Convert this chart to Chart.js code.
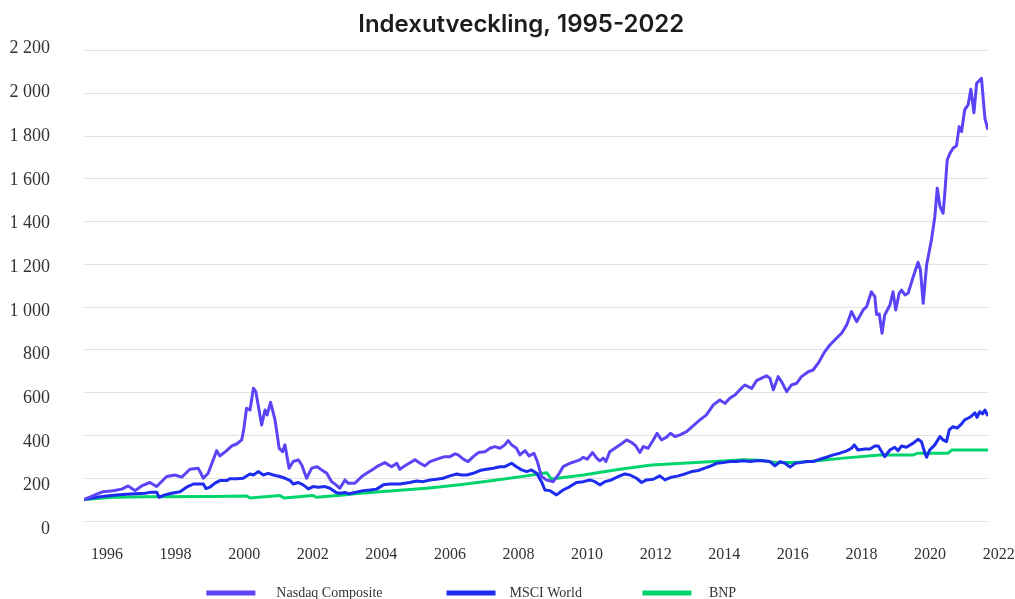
<!DOCTYPE html>
<html><head><meta charset="utf-8">
<script src="https://cdn.jsdelivr.net/npm/chart.js@4"></script>
<style>html,body{margin:0;padding:0;background:#fff;}</style>
</head><body>
<canvas id="c" width="1015" height="599"></canvas>
<script>
const chartTitle = 'Indexutveckling, 1995-2022';
const seriesNames = ['Nasdaq Composite', 'MSCI World', 'BNP'];
const seriesColors = ['#5a44f6', '#1e2cf0', '#00d56c'];
const xTickYears = [1996, 1998, 2000, 2002, 2004, 2006, 2008, 2010, 2012, 2014, 2016, 2018, 2020, 2022];
const yTickValues = [0, 200, 400, 600, 800, 1000, 1200, 1400, 1600, 1800, 2000, 2200];

const nasdaqYears = [1995.33,1995.65,1995.89,1996.18,1996.43,1996.62,1996.82,1997.01,1997.25,1997.45,1997.74,1997.98,1998.18,1998.42,1998.66,1998.81,1998.95,1999.20,1999.29,1999.49,1999.64,1999.78,1999.93,1999.99,2000.07,2000.17,2000.27,2000.34,2000.51,2000.61,2000.67,2000.77,2000.90,2001.02,2001.12,2001.19,2001.31,2001.43,2001.58,2001.68,2001.82,2001.97,2002.13,2002.26,2002.41,2002.55,2002.68,2002.79,2002.94,2003.03,2003.23,2003.43,2003.57,2003.76,2003.91,2004.10,2004.30,2004.45,2004.54,2004.69,2004.98,2005.13,2005.27,2005.42,2005.56,2005.71,2005.85,2006.00,2006.15,2006.24,2006.39,2006.53,2006.68,2006.83,2007.02,2007.17,2007.31,2007.46,2007.60,2007.70,2007.80,2007.94,2008.04,2008.19,2008.31,2008.45,2008.55,2008.67,2008.82,2009.01,2009.19,2009.30,2009.50,2009.64,2009.79,2009.89,2010.00,2010.16,2010.28,2010.37,2010.47,2010.55,2010.66,2010.81,2010.96,2011.15,2011.30,2011.42,2011.54,2011.64,2011.78,2011.93,2012.04,2012.17,2012.32,2012.43,2012.56,2012.71,2012.90,2013.09,2013.29,2013.48,2013.68,2013.87,2014.02,2014.16,2014.31,2014.45,2014.60,2014.80,2014.94,2015.09,2015.23,2015.33,2015.43,2015.57,2015.67,2015.82,2015.96,2016.11,2016.25,2016.45,2016.59,2016.74,2016.93,2017.08,2017.22,2017.42,2017.57,2017.71,2017.86,2018.05,2018.15,2018.29,2018.39,2018.44,2018.52,2018.60,2018.68,2018.83,2018.92,2019.00,2019.10,2019.17,2019.27,2019.36,2019.51,2019.65,2019.72,2019.80,2019.90,2020.04,2020.14,2020.21,2020.29,2020.38,2020.43,2020.50,2020.58,2020.67,2020.77,2020.85,2020.92,2021.01,2021.11,2021.19,2021.28,2021.36,2021.50,2021.60,2021.69];
const nasdaqValues = [100,122,137,141,149,164,142,164,180,161,208,215,205,242,247,200,223,329,304,329,351,360,379,430,527,519,621,605,449,519,496,555,473,340,324,356,247,278,286,262,200,247,254,239,223,184,169,153,192,177,177,208,223,242,258,273,254,270,242,258,286,270,258,278,286,294,301,301,314,309,289,278,301,320,324,340,348,340,356,376,356,340,309,329,304,317,278,208,192,184,223,254,270,278,286,298,289,320,294,281,294,278,324,340,356,379,367,351,320,348,340,379,410,379,392,410,395,403,418,445,473,496,543,566,550,574,589,613,636,620,656,668,679,668,613,675,652,605,636,644,675,698,706,738,792,823,846,878,917,979,932,987,1002,1072,1049,966,968,878,964,1010,1072,987,1065,1080,1057,1065,1142,1210,1174,1018,1197,1314,1423,1556,1470,1439,1532,1688,1719,1743,1754,1844,1821,1922,1946,2019,1909,2047,2070,1883,1829];

const msciYears = [1995.33,1995.70,1995.99,1996.28,1996.57,1996.82,1997.11,1997.30,1997.45,1997.52,1997.69,1997.89,1998.13,1998.32,1998.52,1998.81,1998.89,1999.00,1999.15,1999.29,1999.49,1999.59,1999.78,1999.97,2000.17,2000.27,2000.41,2000.56,2000.70,2000.85,2001.04,2001.19,2001.34,2001.43,2001.58,2001.72,2001.87,2002.01,2002.16,2002.36,2002.50,2002.68,2002.79,2002.94,2003.06,2003.23,2003.47,2003.67,2003.86,2004.06,2004.25,2004.45,2004.54,2004.83,2005.03,2005.22,2005.42,2005.61,2005.80,2006.00,2006.20,2006.34,2006.49,2006.68,2006.87,2007.07,2007.26,2007.46,2007.60,2007.80,2007.94,2008.09,2008.24,2008.38,2008.53,2008.67,2008.77,2008.92,2009.11,2009.30,2009.50,2009.69,2009.89,2010.08,2010.23,2010.37,2010.52,2010.71,2010.91,2011.10,2011.25,2011.44,2011.59,2011.73,2011.93,2012.12,2012.27,2012.46,2012.66,2012.85,2013.05,2013.24,2013.43,2013.58,2013.78,2013.97,2014.16,2014.36,2014.55,2014.75,2014.94,2015.13,2015.33,2015.48,2015.63,2015.77,2015.92,2016.07,2016.22,2016.40,2016.59,2016.79,2016.98,2017.18,2017.37,2017.57,2017.71,2017.79,2017.90,2018.10,2018.25,2018.39,2018.49,2018.59,2018.68,2018.83,2018.97,2019.07,2019.17,2019.31,2019.51,2019.65,2019.75,2019.85,2019.90,2019.99,2020.14,2020.29,2020.38,2020.48,2020.56,2020.67,2020.79,2020.92,2021.01,2021.16,2021.31,2021.37,2021.45,2021.53,2021.60,2021.69];
const msciValues = [100,111,117,122,125,127,130,135,135,111,122,130,137,158,173,173,151,158,177,189,189,198,198,200,220,215,231,215,223,215,208,200,189,173,180,169,150,161,158,161,153,133,130,133,127,133,142,145,149,169,173,173,173,180,187,184,192,195,200,211,220,215,215,223,236,242,247,254,254,270,254,239,231,239,223,184,145,142,122,145,161,180,184,192,184,169,184,192,208,220,215,200,180,192,195,211,192,205,211,220,231,236,247,256,270,273,278,278,282,278,282,282,278,258,278,270,252,270,273,278,278,289,298,309,317,328,340,356,332,337,337,351,351,324,301,332,345,329,351,345,364,382,371,317,298,332,356,395,379,371,426,441,434,454,473,485,506,485,511,501,519,491];

const bnpYears = [1995.33,1996.17,1997.16,1999.09,2000.07,2000.17,2001.04,2001.16,2002.01,2002.11,2002.89,2003.38,2004.35,2005.32,2006.29,2007.26,2008.24,2008.82,2008.96,2009.89,2010.86,2011.88,2012.80,2014.55,2015.04,2015.52,2016.01,2016.50,2017.47,2018.54,2019.51,2019.65,2020.53,2020.63,2021.69];
const bnpValues = [100,111,113,114,117,108,119,108,119,111,122,130,141,153,169,189,211,226,196,215,240,262,270,286,284,273,273,278,294,309,309,317,317,332,332];

function toPoints(xs, ys) { return xs.map((x, i) => ({ x: x, y: ys[i] })); }
function fmtThousands(v) {
  if (v >= 1000) return Math.floor(v / 1000) + ' ' + String(v % 1000).padStart(3, '0');
  return String(v);
}

const xTickFont = { family: 'Liberation Serif', size: 16 };
const yTickFont = { family: 'Liberation Serif', size: 18 };
const allSeries = [[nasdaqYears, nasdaqValues], [msciYears, msciValues], [bnpYears, bnpValues]];
const legendLeading = [4, 2, 3];
const legendTrailing = [12, 11, 13];

new Chart(document.getElementById('c'), {
  type: 'line',
  data: {
    datasets: allSeries.map((s, i) => ({
      label: seriesNames[i],
      data: toPoints(s[0], s[1]),
      borderColor: seriesColors[i],
      backgroundColor: seriesColors[i],
      borderWidth: 3,
      pointRadius: 0,
      tension: 0,
      fill: false,
      borderJoinStyle: 'round',
      yAxisID: 'y'
    }))
  },
  options: {
    responsive: false,
    animation: false,
    layout: { padding: { left: 0, right: 27, top: 0, bottom: -11 } },
    plugins: {
      title: {
        display: true,
        text: '         ' + chartTitle,
        color: '#1c1c1c',
        font: { family: 'Inter', size: 24, weight: '600' },
        padding: { top: 10, bottom: 11.7 }
      },
      legend: {
        position: 'bottom',
        labels: {
          boxWidth: 49,
          boxHeight: 5,
          padding: 22,
          color: '#333',
          font: { family: 'Liberation Serif', size: 14 },
          generateLabels: (chart) => {
            const items = Chart.defaults.plugins.legend.labels.generateLabels(chart);
            return items.map((it, i) => {
              it.text = ' '.repeat(legendLeading[i]) + it.text + ' '.repeat(legendTrailing[i]);
              it.lineWidth = 0;
              it.fillStyle = seriesColors[i];
              it.strokeStyle = seriesColors[i];
              return it;
            });
          }
        }
      },
      tooltip: { enabled: false }
    },
    scales: {
      x: {
        type: 'linear',
        min: 1995.33,
        max: 2021.69,
        grid: { display: false, drawTicks: false },
        border: { display: false },
        ticks: { padding: 24, autoSkip: false, maxRotation: 0, color: '#333', font: xTickFont, callback: (v) => String(v) },
        afterBuildTicks: (scale) => { scale.ticks = xTickYears.map(v => ({ value: v })); },
        afterFit: (scale) => { scale.paddingRight = 0; scale.paddingLeft = 0; scale.height = 43; }
      },
      y: {
        position: 'left',
        min: 0,
        max: 2200,
        grid: { color: '#e2e2e2', lineWidth: 1, drawTicks: false },
        border: { display: false },
        ticks: { stepSize: 200, display: false },
        afterFit: (scale) => { scale.width = 0; }
      },
      yLabels: {
        position: 'left',
        min: 38,
        max: 2191.8,
        grid: { display: false, drawTicks: false },
        border: { display: false },
        ticks: { padding: 34, color: '#333', font: yTickFont, callback: (v) => fmtThousands(v) },
        afterBuildTicks: (scale) => { scale.ticks = yTickValues.map(v => ({ value: v })); },
        afterFit: (scale) => { scale.width = 84; scale.paddingTop = 0; scale.paddingBottom = 0; }
      }
    }
  }
});
</script>
</body></html>
